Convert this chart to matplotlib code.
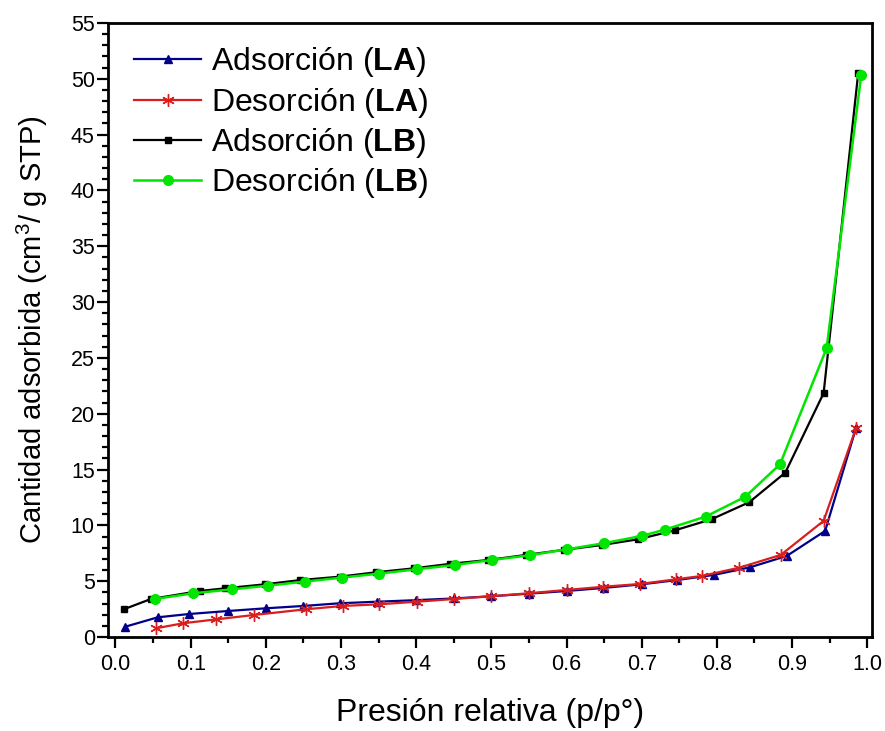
import matplotlib.pyplot as plt
from matplotlib.ticker import MultipleLocator

plt.rcParams['font.family'] = ['Liberation Sans', 'DejaVu Sans']
plt.rcParams['mathtext.fontset'] = 'custom'
plt.rcParams['mathtext.rm'] = 'Liberation Sans'
plt.rcParams['mathtext.bf'] = 'Liberation Sans:bold'

# Adsorción LA
p_ads_la = [0.013, 0.056, 0.098, 0.150, 0.200, 0.250, 0.298, 0.348, 0.400, 0.450,
            0.500, 0.550, 0.600, 0.650, 0.700, 0.747, 0.796, 0.844, 0.893, 0.944, 0.985]
v_ads_la = [0.92, 1.76, 2.06, 2.33, 2.57, 2.78, 3.02, 3.16, 3.30, 3.45,
            3.65, 3.88, 4.12, 4.40, 4.72, 5.10, 5.56, 6.24, 7.26, 9.50, 18.7]

# Desorción LA
p_des_la = [0.054, 0.090, 0.134, 0.184, 0.253, 0.302, 0.351, 0.401, 0.450, 0.500,
            0.550, 0.600, 0.649, 0.698, 0.746, 0.780, 0.830, 0.885, 0.942, 0.985]
v_des_la = [0.78, 1.23, 1.58, 1.97, 2.48, 2.78, 2.93, 3.16, 3.40, 3.65,
            3.92, 4.21, 4.50, 4.75, 5.17, 5.47, 6.21, 7.35, 10.4, 18.7]

# Adsorción LB
p_ads_lb = [0.011, 0.047, 0.112, 0.146, 0.199, 0.246, 0.298, 0.347, 0.397, 0.445,
            0.496, 0.546, 0.596, 0.647, 0.695, 0.744, 0.793, 0.843, 0.891, 0.942, 0.988]
v_ads_lb = [2.48, 3.40, 4.12, 4.36, 4.72, 5.10, 5.40, 5.80, 6.15, 6.55,
            6.90, 7.35, 7.80, 8.24, 8.75, 9.55, 10.55, 12.07, 14.72, 21.84, 50.5]

# Desorción LB
p_des_lb = [0.052, 0.103, 0.155, 0.203, 0.252, 0.301, 0.351, 0.401, 0.451, 0.501,
            0.551, 0.601, 0.650, 0.700, 0.731, 0.785, 0.838, 0.884, 0.946, 0.992]
v_des_lb = [3.40, 3.91, 4.27, 4.60, 4.96, 5.32, 5.68, 6.07, 6.45, 6.90,
            7.32, 7.86, 8.40, 9.05, 9.62, 10.78, 12.57, 15.47, 25.87, 50.3]

fig = plt.figure(figsize=(8.85, 7.31), dpi=100)
ax = fig.add_axes([0.122, 0.1286, 0.863, 0.84])

ax.plot(p_ads_la, v_ads_la, color='#00008b', lw=1.6, marker='^', ms=6,
        label=r'Adsorción ($\mathbf{LA}$)')
ax.plot(p_des_la, v_des_la, color='#d81e1e', lw=1.6, marker=(6, 2, 0), ms=9, mew=1.0,
        label=r'Desorción ($\mathbf{LA}$)')
ax.plot(p_ads_lb, v_ads_lb, color='black', lw=1.6, marker='s', ms=5,
        label=r'Adsorción ($\mathbf{LB}$)')
ax.plot(p_des_lb, v_des_lb, color='#00e600', lw=1.8, marker='o', ms=7,
        label=r'Desorción ($\mathbf{LB}$)')

ax.set_xlim(-0.01, 1.006)
ax.set_ylim(0, 55)
ax.xaxis.set_major_locator(MultipleLocator(0.1))
ax.xaxis.set_minor_locator(MultipleLocator(0.05))
ax.yaxis.set_major_locator(MultipleLocator(5))
ax.yaxis.set_minor_locator(MultipleLocator(1))
ax.xaxis.set_major_formatter(plt.FormatStrFormatter('%.1f'))

ax.tick_params(which='both', direction='out', width=1.6, labelsize=15.5, top=False, right=False)
ax.tick_params(which='major', length=8)
ax.tick_params(which='minor', length=4.5)
ax.tick_params(axis='x', which='major', pad=4)
ax.tick_params(axis='y', which='major', pad=1.5)
for s in ax.spines.values():
    s.set_linewidth(2)

ax.set_xlabel('Presión relativa (p/p°)', fontsize=23, labelpad=17)
ax.set_ylabel('Cantidad adsorbida (cm$^3$/ g STP)', fontsize=21, labelpad=15)

ax.legend(loc='upper left', bbox_to_anchor=(0.005, 1.0), frameon=False, fontsize=23,
          handlelength=2.1, handletextpad=0.3, labelspacing=0.2, borderaxespad=0.3)

fig.savefig('out.png', dpi=100)
